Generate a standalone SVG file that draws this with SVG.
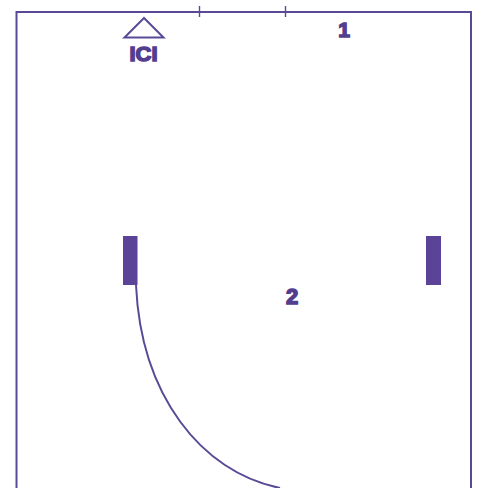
<svg xmlns="http://www.w3.org/2000/svg" width="479" height="488" viewBox="0 0 479 488">
<style>
.l{fill:none;stroke:#5a4a96;stroke-width:2}
.b{fill:#5b4397}
.t{font-family:"Liberation Sans",Arial,sans-serif;font-weight:bold;fill:#523d8f;text-anchor:middle;stroke:#523d8f;stroke-width:1.500}
</style>
<rect width="479" height="488" fill="#fff"/>
<g id="room"><path class="l" d="M16.500 488V12H471V488"/>
<path d="M199.500 6V17M285.500 6V17" fill="none" stroke="#5a4a96" stroke-width="1.400"/></g>
<g id="ici"><path d="M144 18L124.500 37.500H163.500Z" fill="none" stroke="#5a4a96" stroke-width="2"/>
<text class="t" x="143.500" y="60.500" font-size="21" textLength="28" lengthAdjust="spacingAndGlyphs">ICI</text></g>
<g id="label-1"><text class="t" x="344" y="36.500" font-size="21">1</text></g>
<g id="label-2"><text class="t" x="292" y="303.500" font-size="22">2</text></g>
<g id="door-left"><rect class="b" x="123" y="236" width="14.500" height="49"/></g>
<g id="door-right"><rect class="b" x="426" y="236" width="15" height="49"/></g>
<g id="connectors"><path class="l" d="M136 285C141 395 201 472 280 488"/></g>
</svg>
